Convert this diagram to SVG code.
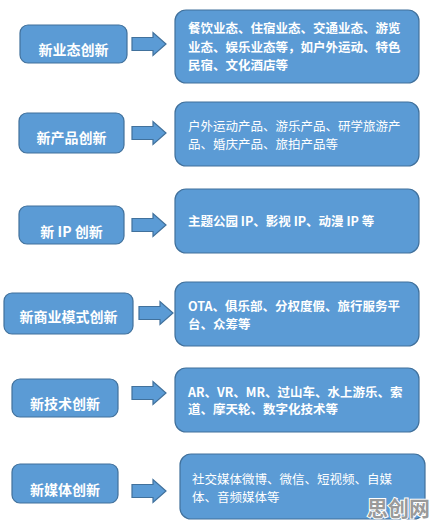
<svg xmlns="http://www.w3.org/2000/svg" width="436" height="528" viewBox="0 0 436 528">
<defs>
<style>
.box{fill:#5B9BD5;stroke:#41719C;stroke-width:1.2}
.lbl{font-family:"Noto Sans CJK SC","Noto Sans",sans-serif;font-size:14px;font-weight:bold;fill:#fff;text-anchor:middle}
.txt{font-family:"Noto Sans CJK SC","Noto Sans",sans-serif;font-size:12.5px;fill:#fff}
.b{font-weight:bold}
.arr{fill:#5B9BD5;stroke:#41719C;stroke-width:1.2}
.wm{font-family:"Noto Sans CJK SC",sans-serif;font-size:21px;font-weight:bold;fill:#9a9a9a;stroke:#fff;stroke-width:2;paint-order:stroke}
</style>
<path id="ar" d="M0,-6.5 H21 V-11.5 L34,0 L21,11.5 V6.5 H0 Z"/>
</defs>
<rect width="436" height="528" fill="#fff"/>
<g id="connectors">
<use href="#ar" class="arr" x="132" y="44"/>
<use href="#ar" class="arr" x="132" y="133"/>
<use href="#ar" class="arr" x="132" y="225"/>
<use href="#ar" class="arr" x="139" y="313"/>
<use href="#ar" class="arr" x="132" y="393"/>
<use href="#ar" class="arr" x="132" y="491"/>
</g>
<g id="n1">
<rect class="box" x="20" y="25" width="107" height="38" rx="8"/>
<text class="lbl" x="73.5" y="55">新业态创新</text>
</g>
<g id="n1d">
<rect class="box" x="175" y="10" width="244" height="73" rx="11"/>
<text class="txt b" x="188" y="33">餐饮业态、住宿业态、交通业态、游览</text>
<text class="txt b" x="188" y="51.5">业态、娱乐业态等，如户外运动、特色</text>
<text class="txt b" x="188" y="70">民宿、文化酒店等</text>
</g>
<g id="n2">
<rect class="box" x="19" y="113" width="105" height="40" rx="8"/>
<text class="lbl" x="71.5" y="142.5">新产品创新</text>
</g>
<g id="n2d">
<rect class="box" x="175" y="102" width="244" height="64" rx="11"/>
<text class="txt" x="188" y="130.5">户外运动产品、游乐产品、研学旅游产</text>
<text class="txt" x="188" y="148.5">品、婚庆产品、旅拍产品等</text>
</g>
<g id="n3">
<rect class="box" x="19" y="206" width="105" height="38" rx="8"/>
<text class="lbl" x="71.5" y="237">新 IP 创新</text>
</g>
<g id="n3d">
<rect class="box" x="175" y="189" width="244" height="64" rx="11"/>
<text class="txt b" x="188" y="225.5">主题公园 IP、影视 IP、动漫 IP 等</text>
</g>
<g id="n4">
<rect class="box" x="4" y="293" width="129" height="41" rx="8"/>
<text class="lbl" x="68.5" y="322">新商业模式创新</text>
</g>
<g id="n4d">
<rect class="box" x="175" y="282" width="244" height="64" rx="11"/>
<text class="txt b" x="188" y="311">OTA、俱乐部、分权度假、旅行服务平</text>
<text class="txt b" x="188" y="328.5">台、众筹等</text>
</g>
<g id="n5">
<rect class="box" x="12" y="379" width="106" height="38" rx="8"/>
<text class="lbl" x="65" y="408.5">新技术创新</text>
</g>
<g id="n5d">
<rect class="box" x="175" y="368" width="244" height="64" rx="11"/>
<text class="txt b" x="188" y="396.5">AR、VR、MR、过山车、水上游乐、索</text>
<text class="txt b" x="188" y="414">道、摩天轮、数字化技术等</text>
</g>
<g id="n6">
<rect class="box" x="12" y="464" width="106" height="39" rx="8"/>
<text class="lbl" x="65" y="495">新媒体创新</text>
</g>
<g id="n6d">
<rect class="box" x="180" y="454" width="245" height="65" rx="11"/>
<text class="txt" x="192" y="483.5">社交媒体微博、微信、短视频、自媒</text>
<text class="txt" x="192" y="501.5">体、音频媒体等</text>
</g>
<text class="wm" x="367" y="516">思创网</text>
</svg>
